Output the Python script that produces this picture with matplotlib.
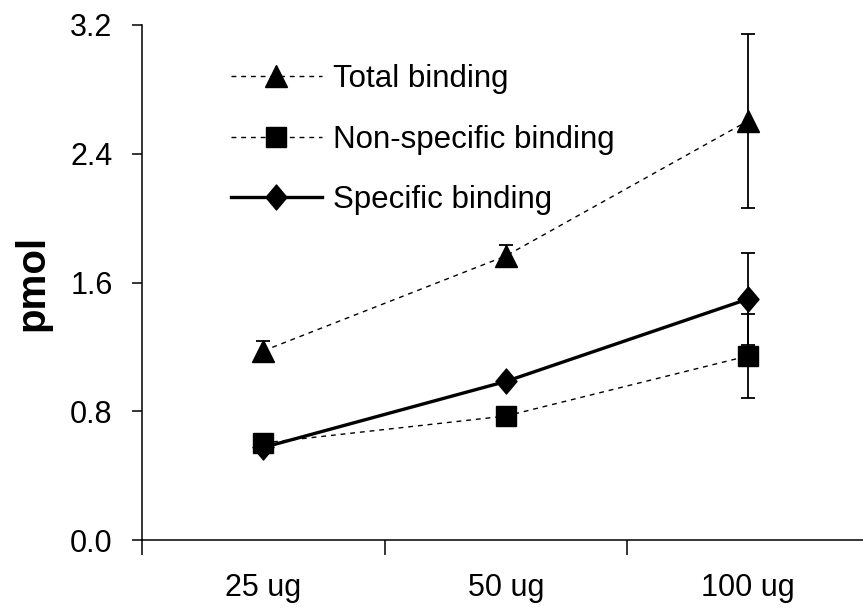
import matplotlib
matplotlib.use("Agg")
import matplotlib.pyplot as plt
from matplotlib.path import Path

# Binding assay: amount of protein vs bound ligand
categories = ["25 ug", "50 ug", "100 ug"]
total_binding = [1.175, 1.765, 2.605]
total_err = [0.06, 0.07, 0.54]
nonspecific_binding = [0.603, 0.770, 1.144]
nonspecific_err = [0.0, 0.0, 0.26]
specific_binding = [0.575, 0.985, 1.498]
specific_err = [0.0, 0.0, 0.286]
y_ticks = [0.0, 0.8, 1.6, 2.4, 3.2]

plt.rcParams["font.family"] = ["Liberation Sans", "DejaVu Sans"]

W, H = 863, 609
fig = plt.figure(figsize=(W / 100, H / 100), dpi=100)
ax = fig.add_axes([142 / W, (H - 540) / H, (869.5 - 142) / W, 515 / H])

x = list(range(len(categories)))
dash = (0, (3.5, 3.5))
diamond = Path([(0, 1), (0.84, 0), (0, -1), (-0.84, 0), (0, 1)],
               [Path.MOVETO, Path.LINETO, Path.LINETO, Path.LINETO, Path.CLOSEPOLY])

err_kw = dict(ecolor="black", elinewidth=1.3, capsize=5.3, capthick=1.3)

c_total = ax.errorbar(x, total_binding, yerr=total_err, color="black", lw=1.0, ls=dash,
                      marker="^", ms=16, mfc="black", mec="black", label="Total binding",
                      zorder=3, **err_kw)
c_nonspec = ax.errorbar(x, nonspecific_binding, yerr=nonspecific_err, color="black", lw=1.0,
                        ls=dash, marker="s", ms=15, mfc="black", mec="black",
                        label="Non-specific binding", zorder=3, **err_kw)
c_spec = ax.errorbar(x, specific_binding, yerr=specific_err, color="black", lw=2.4, ls="-",
                     marker=diamond, ms=18, mfc="black", mec="black",
                     label="Specific binding", zorder=4, **err_kw)

ax.set_xlim(-0.5, len(categories) - 0.5)
ax.set_ylim(0, 3.2)

ax.set_yticks(y_ticks)
ax.set_yticklabels([f"{v:.1f}" for v in y_ticks])
ax.tick_params(axis="y", direction="out", length=7.2, width=1.1, pad=14,
               labelsize=22)

# category boundaries carry the tick marks, labels sit between them
ax.set_xticks([i - 0.5 for i in range(len(categories) + 1)])
ax.set_xticklabels([])
ax.set_xticks(x, minor=True)
ax.set_xticklabels(categories, minor=True)
ax.tick_params(axis="x", which="major", direction="out", length=11, width=1.1)
ax.tick_params(axis="x", which="minor", length=0, pad=24, labelsize=22)

for side in ("top", "right"):
    ax.spines[side].set_visible(False)
for side in ("left", "bottom"):
    ax.spines[side].set_linewidth(1.1)

ax.set_ylabel("pmol", fontsize=29, fontweight="bold", labelpad=13)

# legend keys show only the line and marker, no error bars
handles = [c_total[0], c_nonspec[0], c_spec[0]]
labels = ["Total binding", "Non-specific binding", "Specific binding"]
ax.legend(handles, labels, loc="upper left", bbox_to_anchor=(231 / W, (H - 64) / H),
          bbox_transform=fig.transFigure, frameon=False, fontsize=22.5,
          handlelength=2.9, handletextpad=0.35, labelspacing=0.98,
          borderpad=0, borderaxespad=0, numpoints=1)

fig.savefig("out.png", dpi=100)
